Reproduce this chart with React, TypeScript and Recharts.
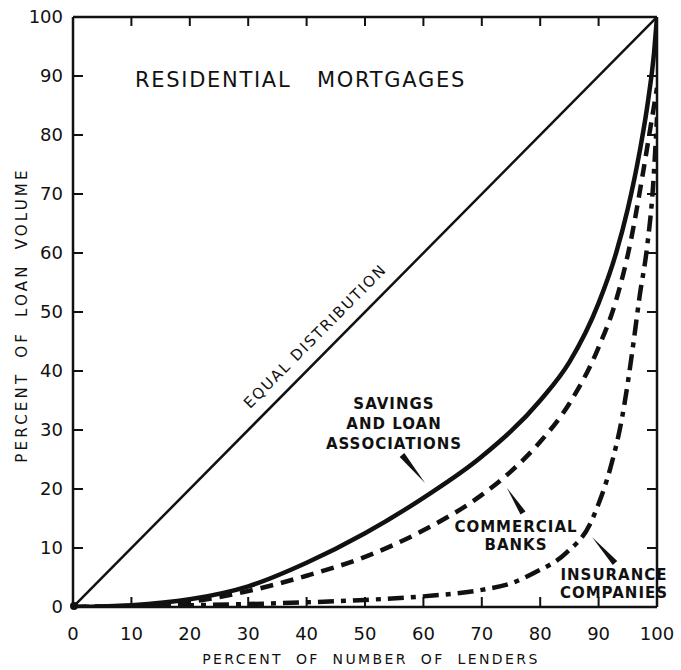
import { LineChart, Line, XAxis, YAxis } from 'recharts';

// percent of lenders (x) vs percent of loan volume (y)
const equalX = [0, 100];
const equalY = [0, 100];

const savingsX = [0, 10, 20, 30, 40, 50, 60, 70, 80, 85, 90, 93, 95, 97, 98.5, 99.5, 100];
const savingsY = [0, 0.3, 1.3, 3.5, 7.5, 12.5, 18.5, 25.5, 35, 41.5, 51.5, 60, 67.5, 77, 86, 94, 100];

const banksX = [0, 10, 20, 30, 40, 50, 60, 70, 75, 80, 85, 90, 93, 95.5, 97.5, 99, 100];
const banksY = [0, 0.2, 0.9, 2.7, 5.3, 8.5, 13, 19, 23, 28, 34.5, 44, 52, 62, 73, 82, 88];

const insuranceX = [0, 20, 30, 40, 50, 60, 70, 75, 79, 84.5, 88.5, 90, 92, 94, 95, 96, 97, 98.3, 99.3, 100];
const insuranceY = [0, 0.3, 0.5, 0.8, 1.2, 1.8, 2.9, 4, 5.8, 9.2, 14, 17.5, 23.5, 32, 38, 45, 52.5, 61, 71, 83];

const axisTicks = [0, 10, 20, 30, 40, 50, 60, 70, 80, 90, 100];

const toPoints = (xs: number[], ys: number[]) => xs.map((x, i) => ({ x, y: ys[i] }));

const FONT = '"DejaVu Sans", sans-serif';
const INK = '#111';

function LeftTick(p: any) {
  return (
    <g>
      <line x1={p.x} y1={p.y} x2={p.x + 10} y2={p.y} stroke={INK} strokeWidth={2} />
      <text x={p.x - 10} y={p.y} dy="0.36em" textAnchor="end" fontSize={18} fontFamily={FONT} fill={INK}>
        {p.payload.value}
      </text>
    </g>
  );
}

function BottomTick(p: any) {
  return (
    <g>
      <line x1={p.x} y1={p.y} x2={p.x} y2={p.y - 10} stroke={INK} strokeWidth={2} />
      <text x={p.x} y={p.y + 27} dy="0.36em" textAnchor="middle" fontSize={18} fontFamily={FONT} fill={INK}>
        {p.payload.value}
      </text>
    </g>
  );
}

function TopTick(p: any) {
  return <line x1={p.x} y1={p.y} x2={p.x} y2={p.y + 9} stroke={INK} strokeWidth={2} />;
}

function RightTick(p: any) {
  return <line x1={p.x} y1={p.y} x2={p.x - 10} y2={p.y} stroke={INK} strokeWidth={2} />;
}

// tapered pointer: wide base at the label, tip at the curve
function wedge(bx: number, by: number, tx: number, ty: number, w: number) {
  const dx = tx - bx;
  const dy = ty - by;
  const len = Math.sqrt(dx * dx + dy * dy);
  const nx = (-dy / len) * (w / 2);
  const ny = (dx / len) * (w / 2);
  return `${bx + nx},${by + ny} ${bx - nx},${by - ny} ${tx},${ty}`;
}

const labelStyle = { fontFamily: FONT, fontWeight: 700, fontSize: 15, letterSpacing: 1 } as const;

export default function App() {
  const axisLine = { stroke: INK, strokeWidth: 2.5 };
  return (
    <div style={{ position: 'absolute', left: 0, top: 0, width: 681, height: 670, background: '#fff' }}>
      <LineChart width={681} height={670} margin={{ top: 7, right: 14, bottom: 23, left: 13 }}>
        <XAxis
          xAxisId="b"
          type="number"
          dataKey="x"
          domain={[0, 100]}
          ticks={axisTicks}
          height={40}
          tickSize={0}
          tickMargin={0}
          axisLine={axisLine}
          tick={<BottomTick />}
          allowDataOverflow
        />
        <XAxis
          xAxisId="t"
          orientation="top"
          type="number"
          dataKey="x"
          domain={[0, 100]}
          ticks={axisTicks}
          height={10}
          tickSize={0}
          tickMargin={0}
          axisLine={axisLine}
          tick={<TopTick />}
          allowDataOverflow
        />
        <YAxis
          yAxisId="l"
          type="number"
          domain={[0, 100]}
          ticks={axisTicks}
          width={60}
          tickSize={0}
          tickMargin={0}
          axisLine={axisLine}
          tick={<LeftTick />}
          allowDataOverflow
        />
        <YAxis
          yAxisId="r"
          orientation="right"
          type="number"
          domain={[0, 100]}
          ticks={axisTicks}
          width={10}
          tickSize={0}
          tickMargin={0}
          axisLine={axisLine}
          tick={<RightTick />}
          allowDataOverflow
        />
        <Line
          xAxisId="t"
          yAxisId="r"
          data={toPoints(equalX, equalY)}
          dataKey="y"
          type="linear"
          stroke={INK}
          strokeWidth={2.5}
          dot={false}
          isAnimationActive={false}
        />
        <Line
          xAxisId="b"
          yAxisId="l"
          data={toPoints(insuranceX, insuranceY)}
          dataKey="y"
          type="monotone"
          stroke={INK}
          strokeWidth={4.5}
          strokeDasharray="16 7 5 7"
          dot={false}
          isAnimationActive={false}
        />
        <Line
          xAxisId="b"
          yAxisId="l"
          data={toPoints(banksX, banksY)}
          dataKey="y"
          type="monotone"
          stroke={INK}
          strokeWidth={4.5}
          strokeDasharray="13 8"
          dot={false}
          isAnimationActive={false}
        />
        <Line
          xAxisId="b"
          yAxisId="l"
          data={toPoints(savingsX, savingsY)}
          dataKey="y"
          type="monotone"
          stroke={INK}
          strokeWidth={4.5}
          dot={false}
          isAnimationActive={false}
        />
      </LineChart>

      <svg
        width={681}
        height={670}
        style={{ position: 'absolute', left: 0, top: 0, pointerEvents: 'none' }}
      >
        <circle cx={74} cy={606} r={4} fill={INK} />
        <text x={135} y={87} fontFamily={FONT} fontSize={21} letterSpacing={1.7} fill={INK}>
          RESIDENTIAL
        </text>
        <text x={317} y={87} fontFamily={FONT} fontSize={21} letterSpacing={1.7} fill={INK}>
          MORTGAGES
        </text>

        <text
          x={315}
          y={336}
          transform="rotate(-45.3 315 336)"
          textAnchor="middle"
          dy="0.36em"
          fontFamily={FONT}
          fontSize={15}
          letterSpacing={1.8}
          fill={INK}
        >
          EQUAL DISTRIBUTION
        </text>

        <g fill={INK} textAnchor="middle" {...labelStyle}>
          <text x={394} y={404} dy="0.36em">SAVINGS</text>
          <text x={394} y={424} dy="0.36em">AND LOAN</text>
          <text x={394} y={444} dy="0.36em">ASSOCIATIONS</text>
          <text x={516} y={527} dy="0.36em">COMMERCIAL</text>
          <text x={516} y={545} dy="0.36em">BANKS</text>
          <text x={614} y={575} dy="0.36em">INSURANCE</text>
          <text x={614} y={593} dy="0.36em">COMPANIES</text>
        </g>

        <polygon points={wedge(402, 455, 425, 483, 6)} fill={INK} />
        <polygon points={wedge(523, 513, 507, 488, 6)} fill={INK} />
        <polygon points={wedge(615, 563, 592, 537, 6)} fill={INK} />

        <text
          x={22}
          y={315}
          transform="rotate(-90 22 315)"
          textAnchor="middle"
          dy="0.36em"
          fontFamily={FONT}
          fontSize={15}
          letterSpacing={3.2}
          wordSpacing={6}
          fill={INK}
        >
          PERCENT OF LOAN VOLUME
        </text>
        <text
          x={371}
          y={659}
          textAnchor="middle"
          dy="0.36em"
          fontFamily={FONT}
          fontSize={14}
          letterSpacing={2.4}
          wordSpacing={6}
          fill={INK}
        >
          PERCENT OF NUMBER OF LENDERS
        </text>
      </svg>
    </div>
  );
}
